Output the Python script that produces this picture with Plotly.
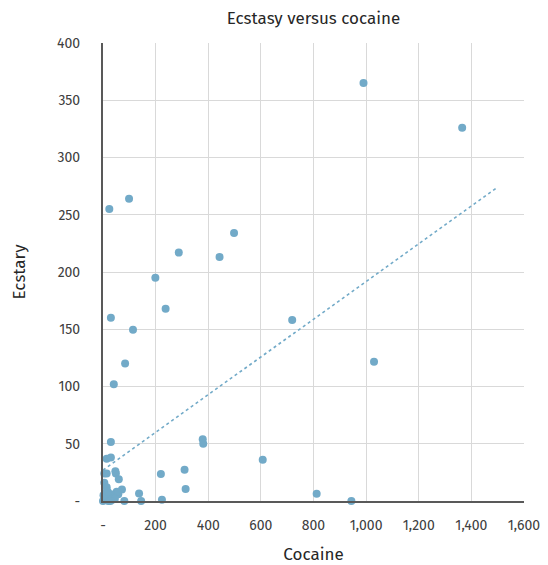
import plotly.graph_objects as go

cocaine = [990, 1365, 99, 24, 288, 443, 498, 199, 238, 30, 114, 84, 41, 719, 1030,
           607, 812, 944, 379, 381, 220, 310, 314, 137, 145, 224, 30, 14, 30, 5, 14,
           47, 49, 60, 5, 14, 72, 58, 81, 52,
           0, 5, 10, 15, 20, 25, 30, 35, 40, 8, 2, 18, 45, 28]
ecstasy = [365, 326, 264, 255, 217, 213, 234, 195, 168, 160, 149.5, 120, 102, 158, 121.7,
           36, 6.4, 0, 54, 50, 23.5, 27.3, 10.5, 6.6, 0, 1, 51.5, 37, 38, 24, 24,
           26, 24, 19, 16, 12, 10, 6, 0, 8,
           0, 2, 1, 4, 0, 3, 6, 1, 3, 7, 5, 8, 2, 0]

# linear trendline (as shown in the source chart)
trend_x = [0, 1500]
trend_intercept = 27
trend_slope = 0.1647

x_ticks = [0, 200, 400, 600, 800, 1000, 1200, 1400, 1600]
x_ticktext = ["-", "200", "400", "600", "800", "1,000", "1,200", "1,400", "1,600"]
y_ticks = [0, 50, 100, 150, 200, 250, 300, 350, 400]
y_ticktext = ["-", "50", "100", "150", "200", "250", "300", "350", "400"]

trend_y = [trend_intercept + trend_slope * v for v in trend_x]

blue = "#72aac8"
fig = go.Figure()
fig.add_trace(go.Scatter(x=trend_x, y=trend_y, mode="lines",
                         line=dict(color=blue, width=1.6, dash="dot"),
                         hoverinfo="skip", showlegend=False))
fig.add_trace(go.Scatter(x=cocaine, y=ecstasy, mode="markers",
                         marker=dict(color=blue, size=8, line=dict(width=0)),
                         cliponaxis=False, showlegend=False))

# page body has an 8px default margin, so the figure is 8px smaller
W, H = 540, 557
font_family = "Fira Sans, Open Sans, sans-serif"
fig.update_layout(
    width=W, height=H,
    margin=dict(l=95, r=24, t=35, b=64, autoexpand=False),
    paper_bgcolor="white", plot_bgcolor="white",
    font=dict(family=font_family, color="#404040", size=14),
    title=dict(text="Ecstasy versus cocaine", x=0.5, xref="paper", y=1 - 10 / H, yref="container",
               xanchor="center", yanchor="middle", automargin=False,
               font=dict(size=17, color="#262626")),
    xaxis=dict(range=[0, 1600], tickvals=x_ticks, ticktext=x_ticktext,
               showgrid=True, gridcolor="#d9d9d9", gridwidth=1,
               showline=True, linecolor="#595959", linewidth=2,
               zeroline=False, ticks="", ticklabelstandoff=10, automargin=False,
               tickfont=dict(size=14, color="#404040"),
               title=dict(text="Cocaine", font=dict(size=17, color="#262626"), standoff=16)),
    yaxis=dict(range=[0, 400], tickvals=y_ticks, ticktext=y_ticktext,
               showgrid=True, gridcolor="#d9d9d9", gridwidth=1,
               showline=True, linecolor="#595959", linewidth=2,
               zeroline=False, ticks="", ticklabelstandoff=18, automargin=False,
               tickfont=dict(size=14, color="#404040"),
               title=dict(text="Ecstary", font=dict(size=17, color="#262626"), standoff=27)),
)
fig.write_html("out.html")
